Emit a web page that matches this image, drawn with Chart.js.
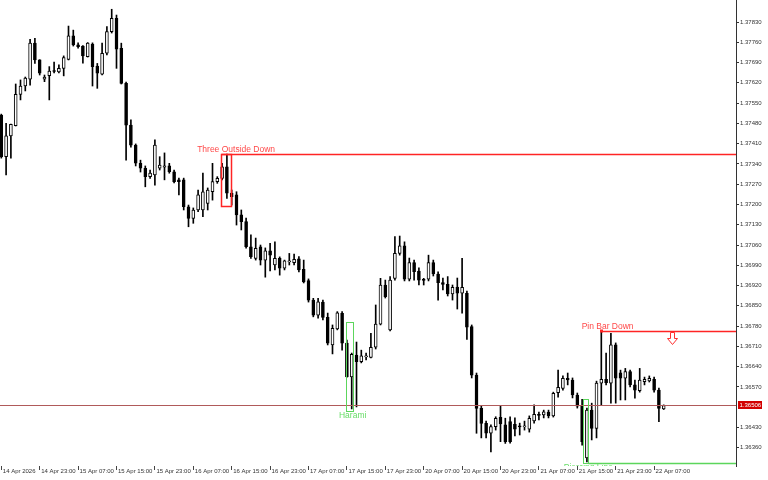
<!DOCTYPE html>
<html><head><meta charset="utf-8">
<script src="https://cdn.jsdelivr.net/npm/chart.js@4.4.1/dist/chart.umd.min.js"></script>
<style>html,body{margin:0;padding:0;background:#fff}#wrap{width:768px;height:480px}</style>
</head><body><div id="wrap"><canvas id="c" width="768" height="480"></canvas></div>
<script>
// ---- H1 bars, 14 Apr 2026 15:00 .. 22 Apr 2026 09:00 ----
const openP = [
1.37509,1.37365,1.37437,1.37472,1.37580,1.37609,1.37633,1.37757,1.37699,1.37633,
1.37645,1.37661,1.37658,1.37670,1.37701,1.37782,1.37751,1.37747,1.37710,1.37754,
1.37678,1.37650,1.37722,1.37797,1.37843,1.37739,1.37618,1.37474,1.37405,1.37342,
1.37325,1.37296,1.37302,1.37325,1.37329,1.37333,1.37313,1.37285,1.37285,1.37192,
1.37152,1.37181,1.37181,1.37204,1.37244,1.37279,1.37290,1.37330,1.37239,1.37233,
1.37164,1.37141,1.37054,1.37014,1.37054,1.37008,1.37040,1.36991,1.37014,1.36980,
1.37002,1.36999,1.37012,1.36976,1.36937,1.36870,1.36818,1.36863,1.36810,1.36715,
1.36770,1.36824,1.36721,1.36605,1.36680,1.36657,1.36674,1.36672,1.36707,1.36787,
1.36922,1.36767,1.36945,1.37031,1.37057,1.36942,1.36999,1.36970,1.36939,1.36942,
1.36999,1.36960,1.36930,1.36924,1.36891,1.36915,1.36894,1.36893,1.36778,1.36611,
1.36496,1.36444,1.36410,1.36433,1.36465,1.36439,1.36450,1.36441,1.36433,1.36432,
1.36424,1.36453,1.36475,1.36473,1.36483,1.36470,1.36550,1.36565,1.36600,1.36594,
1.36542,1.36504,1.36325,1.36490,1.36427,1.36583,1.36596,1.36583,1.36715,1.36619,
1.36600,1.36623,1.36577,1.36557,1.36588,1.36591,1.36596,1.36559,1.36494];
const highP = [
1.37512,1.37480,1.37478,1.37616,1.37630,1.37640,1.37770,1.37774,1.37700,1.37647,
1.37676,1.37692,1.37682,1.37713,1.37816,1.37802,1.37758,1.37749,1.37759,1.37758,
1.37687,1.37757,1.37814,1.37874,1.37854,1.37757,1.37623,1.37492,1.37409,1.37353,
1.37333,1.37319,1.37423,1.37365,1.37378,1.37342,1.37319,1.37291,1.37291,1.37198,
1.37188,1.37250,1.37308,1.37257,1.37342,1.37296,1.37342,1.37374,1.37250,1.37244,
1.37181,1.37153,1.37095,1.37084,1.37060,1.37050,1.37066,1.37071,1.37019,1.37008,
1.37031,1.37029,1.37020,1.37008,1.36943,1.36876,1.36876,1.36870,1.36825,1.36784,
1.36830,1.36830,1.36732,1.36687,1.36725,1.36697,1.36687,1.36755,1.36853,1.36945,
1.36939,1.36951,1.37089,1.37091,1.37071,1.37015,1.37008,1.36981,1.36945,1.37025,
1.37008,1.36967,1.36946,1.36951,1.36922,1.36946,1.37014,1.36901,1.36784,1.36618,
1.36504,1.36452,1.36439,1.36467,1.36504,1.36462,1.36467,1.36463,1.36445,1.36452,
1.36470,1.36508,1.36483,1.36490,1.36490,1.36552,1.36628,1.36608,1.36618,1.36601,
1.36549,1.36527,1.36497,1.36514,1.36590,1.36764,1.36687,1.36755,1.36722,1.36628,
1.36634,1.36628,1.36594,1.36634,1.36604,1.36608,1.36604,1.36566,1.36508];
const lowP = [
1.37360,1.37302,1.37360,1.37471,1.37561,1.37592,1.37612,1.37687,1.37647,1.37624,
1.37561,1.37654,1.37654,1.37644,1.37699,1.37747,1.37740,1.37688,1.37709,1.37609,
1.37601,1.37647,1.37716,1.37792,1.37670,1.37616,1.37353,1.37398,1.37333,1.37312,
1.37261,1.37290,1.37267,1.37319,1.37285,1.37308,1.37274,1.37233,1.37181,1.37123,
1.37135,1.37175,1.37158,1.37181,1.37215,1.37273,1.37285,1.37221,1.37198,1.37129,
1.37112,1.37049,1.37014,1.37008,1.36991,1.36949,1.36971,1.36974,1.36956,1.36974,
1.36991,1.36991,1.36967,1.36929,1.36863,1.36812,1.36807,1.36801,1.36715,1.36684,
1.36767,1.36697,1.36604,1.36494,1.36501,1.36653,1.36663,1.36670,1.36701,1.36784,
1.36877,1.36763,1.36939,1.37025,1.36936,1.36936,1.36939,1.36922,1.36922,1.36936,
1.36953,1.36870,1.36905,1.36884,1.36870,1.36839,1.36825,1.36734,1.36601,1.36410,
1.36394,1.36394,1.36346,1.36421,1.36381,1.36375,1.36376,1.36401,1.36404,1.36421,
1.36414,1.36445,1.36456,1.36463,1.36463,1.36466,1.36535,1.36559,1.36577,1.36532,
1.36497,1.36369,1.36311,1.36387,1.36394,1.36508,1.36577,1.36514,1.36514,1.36525,
1.36525,1.36570,1.36531,1.36552,1.36577,1.36587,1.36552,1.36450,1.36492];
const closeP = [
1.37364,1.37437,1.37477,1.37580,1.37609,1.37636,1.37757,1.37699,1.37653,1.37640,
1.37661,1.37659,1.37670,1.37707,1.37782,1.37751,1.37745,1.37713,1.37757,1.37676,
1.37653,1.37722,1.37797,1.37843,1.37736,1.37618,1.37474,1.37405,1.37343,1.37325,
1.37296,1.37308,1.37405,1.37336,1.37333,1.37313,1.37279,1.37279,1.37192,1.37152,
1.37181,1.37233,1.37244,1.37250,1.37279,1.37290,1.37330,1.37239,1.37227,1.37164,
1.37141,1.37054,1.37020,1.37049,1.37008,1.37040,1.37025,1.37014,1.36980,1.37005,
1.37004,1.37011,1.36974,1.36933,1.36870,1.36818,1.36864,1.36810,1.36721,1.36772,
1.36826,1.36721,1.36605,1.36683,1.36657,1.36677,1.36677,1.36707,1.36787,1.36922,
1.36882,1.36939,1.37031,1.37057,1.36942,1.36999,1.36968,1.36939,1.36938,1.36999,
1.36960,1.36930,1.36924,1.36891,1.36914,1.36894,1.36914,1.36776,1.36611,1.36496,
1.36444,1.36410,1.36433,1.36462,1.36442,1.36381,1.36381,1.36424,1.36432,1.36435,
1.36462,1.36475,1.36472,1.36484,1.36470,1.36548,1.36569,1.36600,1.36594,1.36542,
1.36504,1.36381,1.36490,1.36427,1.36583,1.36596,1.36585,1.36715,1.36600,1.36600,
1.36623,1.36577,1.36559,1.36594,1.36596,1.36600,1.36559,1.36496,1.36506];

// time-axis labels (every 8th H1 bar)
const tickBars   = [0,8,16,24,32,40,48,56,64,72,80,88,96,104,112,120,128,136];
const tickLabels = ['14 Apr 2026','14 Apr 23:00','15 Apr 07:00','15 Apr 15:00','15 Apr 23:00',
  '16 Apr 07:00','16 Apr 15:00','16 Apr 23:00','17 Apr 07:00','17 Apr 15:00','17 Apr 23:00',
  '20 Apr 07:00','20 Apr 15:00','20 Apr 23:00','21 Apr 07:00','21 Apr 15:00','21 Apr 23:00','22 Apr 07:00'];
const priceTicks = [1.36360,1.36430,1.36570,1.36640,1.36710,1.36780,1.36850,1.36920,1.36990,
  1.37060,1.37130,1.37200,1.37270,1.37340,1.37410,1.37480,1.37550,1.37620,1.37690,1.37760,1.37830];

// candlestick pattern marks
const patName   = ['Three Outside Down','Harami','Pin Bar Down','Piercing Line'];
const patBull   = [false, true, false, true];
const patFrom   = [45.8, 71.8, 125, 121.1];
const patTo     = [47.9, 73.2, 125, 122.2];
const patHigh   = [1.37374, 1.36793, 1.36764, 1.36528];
const patLow    = [1.37196, 1.36484, 1.36764, 1.36306];
const patBox    = [true, true, false, true];
const patLevel  = [1.37374, null, 1.36764, 1.36306];
const patLevelFrom = [45.8, null, 125, 122.2];
const patTextIdx   = [40.8, 73.2, 120.9, 122.3];
const patTextPrice = [1.37389, 1.36470, 1.36779, 1.36290];
const patTextAlign = ['left','center','left','center'];
const arrowIdx = [139.8];
const arrowPrice = [1.36739];

const FONT = "'Liberation Sans', Arial, sans-serif";

const annot = {
  id: 'annot',
  afterDatasetsDraw(chart) {
    const {ctx, chartArea: a, scales: {x, y}} = chart;
    ctx.save();
    ctx.beginPath(); ctx.rect(a.left, a.top, a.right - a.left, a.bottom - a.top); ctx.clip();
    // bid line
    const last = closeP[closeP.length - 1];
    const by = Math.round(y.getPixelForValue(last)) + 0.5;
    ctx.strokeStyle = '#b05a5a'; ctx.lineWidth = 1;
    ctx.beginPath(); ctx.moveTo(a.left, by); ctx.lineTo(a.right, by); ctx.stroke();

    for (let k = 0; k < patName.length; k++) {
      const col = patBull[k] ? '#5cd65c' : '#ff2424';
      const tcol = patBull[k] ? '#66dd66' : '#ff4848';
      if (patBox[k]) {
        const x1 = x.getPixelForValue(patFrom[k]), x2 = x.getPixelForValue(patTo[k]);
        const y1 = y.getPixelForValue(patHigh[k]), y2 = y.getPixelForValue(patLow[k]);
        ctx.strokeStyle = col; ctx.lineWidth = patBull[k] ? 1 : 1.5;
        ctx.strokeRect(Math.round(x1) + 0.5, Math.round(y1) + 0.5, Math.round(x2 - x1), Math.round(y2 - y1));
      }
      if (patLevel[k] !== null) {
        const ly = Math.round(y.getPixelForValue(patLevel[k])) + 0.5;
        const lx = Math.round(x.getPixelForValue(patLevelFrom[k])) + 0.5;
        ctx.strokeStyle = col; ctx.lineWidth = 1.6;
        ctx.beginPath(); ctx.moveTo(lx, ly); ctx.lineTo(a.right, ly); ctx.stroke();
        if (!patBox[k]) { ctx.fillStyle = col; ctx.fillRect(lx - 1.5, ly - 2, 3, 3); }
      }
      ctx.fillStyle = tcol;
      ctx.font = '8.5px ' + FONT;
      ctx.textAlign = patTextAlign[k];
      ctx.textBaseline = 'middle';
      ctx.fillText(patName[k], x.getPixelForValue(patTextIdx[k]), y.getPixelForValue(patTextPrice[k]));
    }
    // hollow down arrow
    for (let k = 0; k < arrowIdx.length; k++) {
      const ax = Math.round(x.getPixelForValue(arrowIdx[k])) + 0.5;
      const ay = Math.round(y.getPixelForValue(arrowPrice[k])) + 0.5;
      ctx.beginPath();
      ctx.moveTo(ax - 2, ay - 6); ctx.lineTo(ax + 2, ay - 6); ctx.lineTo(ax + 2, ay);
      ctx.lineTo(ax + 5, ay); ctx.lineTo(ax, ay + 6); ctx.lineTo(ax - 5, ay);
      ctx.lineTo(ax - 2, ay); ctx.closePath();
      ctx.fillStyle = '#fff'; ctx.fill();
      ctx.strokeStyle = '#ff3030'; ctx.lineWidth = 1; ctx.stroke();
    }
    ctx.restore();

    // bid price tag on the price axis
    ctx.save();
    const ty = y.getPixelForValue(last);
    ctx.fillStyle = '#d20000';
    ctx.fillRect(a.right + 2, Math.round(ty) - 4, 24, 8);
    ctx.fillStyle = '#fff';
    ctx.font = '6px ' + FONT;
    ctx.textAlign = 'left'; ctx.textBaseline = 'middle';
    ctx.fillText(last.toFixed(5), a.right + 3.5, Math.round(ty) + 0.5);
    ctx.restore();
  }
};

new Chart(document.getElementById('c'), {
  type: 'bar',
  data: {
    datasets: [
      {
        label: 'range',
        data: openP.map((o, i) => ({x: i, y: [lowP[i], highP[i]]})),
        backgroundColor: '#000', borderWidth: 0, barThickness: 1,
        grouped: false, order: 2, minBarLength: 1
      },
      {
        label: 'body',
        data: openP.map((o, i) => ({x: i, y: [o, closeP[i]]})),
        backgroundColor: closeP.map((c, i) => c >= openP[i] ? '#fff' : '#000'),
        borderColor: '#000', borderWidth: 1, borderSkipped: false,
        barThickness: 3, grouped: false, order: 1, minBarLength: 1
      }
    ]
  },
  options: {
    responsive: false, animation: false, devicePixelRatio: 1,
    layout: {padding: 0},
    plugins: {legend: {display: false}, tooltip: {enabled: false}},
    scales: {
      x: {
        type: 'linear', min: -0.27, max: 153.06, offset: false,
        grid: {display: true, drawOnChartArea: false, drawTicks: true, tickLength: 4, color: '#444', offset: false},
        border: {display: false},
        ticks: {
          autoSkip: false, maxRotation: 0, minRotation: 0, align: 'start', labelOffset: 1.5, padding: -2,
          color: '#333', font: {family: FONT, size: 6},
          callback: (v) => { const k = tickBars.indexOf(v); return k >= 0 ? tickLabels[k] : ''; }
        },
        afterBuildTicks: (s) => { s.ticks = tickBars.map(v => ({value: v})); },
        afterFit: (s) => { s.height = 14; s.paddingLeft = 0; s.paddingRight = 0; }
      },
      y: {
        position: 'right', min: 1.36297, max: 1.37906,
        grid: {display: true, drawOnChartArea: false, drawTicks: true, tickLength: 3, color: '#333'},
        border: {display: true, color: '#333', width: 1},
        ticks: {
          padding: 1, color: '#333', font: {family: FONT, size: 6},
          callback: (v) => Number(v).toFixed(5)
        },
        afterBuildTicks: (s) => { s.ticks = priceTicks.map(v => ({value: v})); },
        afterFit: (s) => { s.width = 32; s.paddingTop = 0; s.paddingBottom = 0; }
      }
    }
  },
  plugins: [annot]
});
</script>
</body></html>
